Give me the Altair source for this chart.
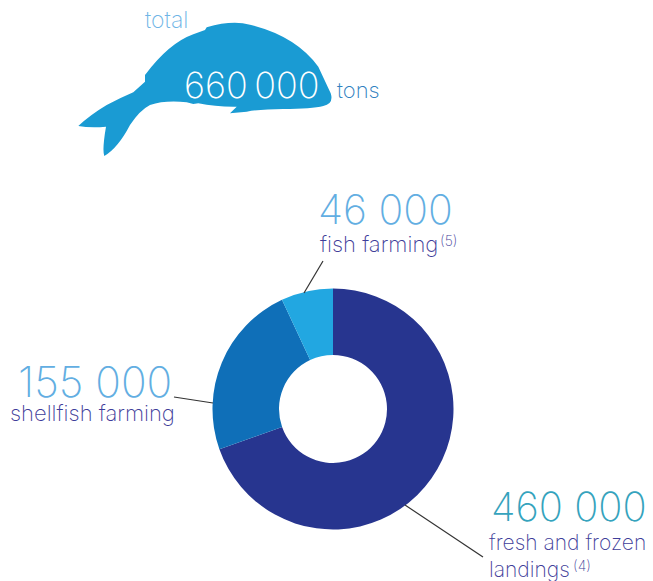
import altair as alt
import pandas as pd

categories = ["fresh and frozen landings", "shellfish farming", "fish farming"]
values = [460000, 155000, 46000]
slice_colors = ["#27358f", "#0f6fb8", "#22a7e1"]
number_texts = ["460 000", "155 000", "46 000"]
total_text = "660\u2009000"

FISH = ("M78.3 126 Q90 115 106.7 105 Q120 98 133.3 92.3 L145 81.7 L145 75 Q169 43 193.3 34.3 L205 30 L206.7 27.3 "
        "Q232 20 250 24.7 Q296 36 318.3 66.7 L330.7 93.3 Q334 104 323.3 106 Q312 109 283 109 Q262 109 246.7 111.7 "
        "L230 113.3 L236.7 106.7 Q216 107 198.3 103.3 L193.3 104 L186.7 102.3 Q165 100 150 105 Q140 110 130 125 "
        "Q118 148 104.3 156 Q102 150 106 126.7 Q90 128 78.3 126 Z")

FONT = "Inter"
W = 200
one = alt.Data(values=[{"a": 1}])


def txt(s, x, y, size, color, align="left"):
    return alt.Chart(one).mark_text(text=s, font=FONT, fontWeight=W, fontSize=size, color=color,
                                    align=align, baseline="alphabetic").encode(
        x=alt.value(x - 8), y=alt.value(y - 8))


def leader(x1, y1, x2, y2):
    return alt.Chart(one).mark_rule(color="#333333", strokeWidth=1.2).encode(
        x=alt.value(x1 - 8), x2=alt.value(x2 - 8), y=alt.value(y1 - 8), y2=alt.value(y2 - 8))


df = pd.DataFrame({"cat": categories, "val": values, "ord": [0, 1, 2]})
donut = alt.Chart(df).mark_arc(outerRadius=120.5, innerRadius=54).encode(
    theta=alt.Theta("val:Q", stack=True),
    order=alt.Order("ord:Q"),
    color=alt.Color("cat:N", scale=alt.Scale(domain=categories, range=slice_colors), legend=None),
    x=alt.value(333 - 8), y=alt.value(409 - 8))

fish = alt.Chart(one).mark_point(shape=FISH, size=4, filled=True, fill="#1a9bd3", opacity=1, strokeWidth=0).encode(
    x=alt.value(-8), y=alt.value(-8))

NUM = 41
LAB = 22
DARK = "#3f3e9a"
layers = [
    fish, donut,
    leader(304, 293, 323, 261), leader(174, 397, 213, 403), leader(405, 505, 483, 557),
    txt("total", 145, 28, 23, "#6fb5e6"),
    txt(total_text, 184, 98, 36, "#ffffff"),
    txt("tons", 337, 98, LAB, "#2f80c0"),
    txt(number_texts[2], 318, 224, NUM, "#62aee2"),
    txt(categories[2], 320, 252, LAB, DARK),
    txt("(5)", 440, 246, 14, DARK),
    txt(number_texts[1], 18, 397, 42.5, "#62aee2"),
    txt(categories[1], 10, 421, LAB, DARK),
    txt(number_texts[0], 491, 521, 40, "#35a3bd"),
    txt("fresh and frozen", 489, 550, 21, DARK),
    txt("landings", 489, 577, 21, DARK),
    txt("(4)", 573, 571, 14, DARK),
]

chart = alt.layer(*layers).properties(
    width=637, height=573, padding=0, autosize=alt.AutoSizeParams(type="none")
).configure_view(stroke=None)
chart.save("out.html", embed_options={"renderer": "svg", "actions": False})
